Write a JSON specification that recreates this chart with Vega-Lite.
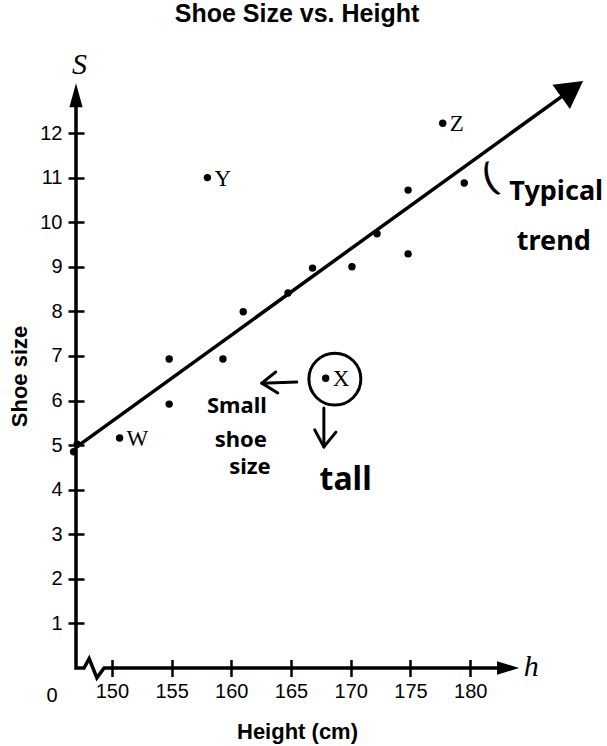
{
  "$schema": "https://vega.github.io/schema/vega-lite/v6.json",
  "width": 442,
  "height": 584,
  "autosize": {"type": "none"},
  "padding": {"left": 76, "top": 84, "right": 89, "bottom": 78},
  "background": "white",
  "title": {
    "text": "Shoe Size vs. Height",
    "font": "Liberation Sans",
    "fontSize": 25,
    "fontWeight": "bold",
    "color": "#000",
    "anchor": "middle",
    "frame": "group",
    "offset": 23
  },
  "config": {"view": {"stroke": null}, "font": "Liberation Sans"},
  "datasets": {
    "people": [
      {"h": 146.8, "s": 4.85, "label": ""},
      {"h": 147.1, "s": 5.02, "label": ""},
      {"h": 150.65, "s": 5.16, "label": "W"},
      {"h": 154.8, "s": 6.93, "label": ""},
      {"h": 154.8, "s": 5.92, "label": ""},
      {"h": 158.0, "s": 11.0, "label": "Y"},
      {"h": 159.3, "s": 6.93, "label": ""},
      {"h": 161.0, "s": 7.99, "label": ""},
      {"h": 164.75, "s": 8.41, "label": ""},
      {"h": 166.8, "s": 8.97, "label": ""},
      {"h": 167.9, "s": 6.5, "label": "X"},
      {"h": 170.1, "s": 9.0, "label": ""},
      {"h": 172.2, "s": 9.74, "label": ""},
      {"h": 174.8, "s": 10.72, "label": ""},
      {"h": 174.8, "s": 9.29, "label": ""},
      {"h": 177.7, "s": 12.22, "label": "Z"},
      {"h": 179.5, "s": 10.88, "label": ""}
    ],
    "trend": [
      {"h": 147.05, "s": 4.96},
      {"h": 188.43, "s": 12.97}
    ],
    "axisPath": [
      {"i": 0, "h": 147, "s": 12.6},
      {"i": 1, "h": 147, "s": 0},
      {"i": 2, "h": 147.67, "s": 0},
      {"i": 3, "h": 148.1, "s": 0.21},
      {"i": 4, "h": 148.75, "s": -0.22},
      {"i": 5, "h": 149.35, "s": 0},
      {"i": 6, "h": 182.6, "s": 0}
    ],
    "noteArrows": [
      {"g": "left", "i": 0, "h": 165.48, "s": 6.415},
      {"g": "left", "i": 1, "h": 162.55, "s": 6.39},
      {"g": "leftHead", "i": 0, "h": 163.72, "s": 6.64},
      {"g": "leftHead", "i": 1, "h": 162.55, "s": 6.39},
      {"g": "leftHead", "i": 2, "h": 163.89, "s": 6.17},
      {"g": "down", "i": 0, "h": 167.75, "s": 5.83},
      {"g": "down", "i": 1, "h": 167.75, "s": 4.96},
      {"g": "downHead", "i": 0, "h": 166.99, "s": 5.34},
      {"g": "downHead", "i": 1, "h": 167.75, "s": 4.96},
      {"g": "downHead", "i": 2, "h": 168.76, "s": 5.29}
    ],
    "smallNotes": [
      {"h": 160.47, "s": 5.87, "text": "Small"},
      {"h": 160.8, "s": 5.12, "text": "shoe"},
      {"h": 161.56, "s": 4.5, "text": "size"}
    ],
    "trendNotes": [
      {"h": 187.2, "s": 10.68, "text": "Typical"},
      {"h": 187.0, "s": 9.56, "text": "trend"}
    ],
    "tallNote": [
      {"h": 169.57, "s": 4.22, "text": "tall"}
    ]
  },
  "encoding": {
    "x": {
      "field": "h",
      "type": "quantitative",
      "scale": {"domain": [147, 184], "nice": false, "zero": false},
      "axis": {
        "values": [150, 155, 160, 165, 170, 175, 180],
        "domain": false,
        "grid": false,
        "tickSize": 17,
        "tickWidth": 2.5,
        "tickColor": "#000",
        "offset": -8.5,
        "labelFont": "Liberation Sans",
        "labelFontSize": 20,
        "labelColor": "#000",
        "labelPadding": 5,
        "title": "Height (cm)",
        "titleFont": "Liberation Sans",
        "titleFontSize": 22,
        "titleFontWeight": "bold",
        "titleColor": "#000",
        "titlePadding": 20
      }
    },
    "y": {
      "field": "s",
      "type": "quantitative",
      "scale": {"domain": [0, 13.1], "nice": false, "zero": false},
      "axis": {
        "values": [1, 2, 3, 4, 5, 6, 7, 8, 9, 10, 11, 12],
        "domain": false,
        "grid": false,
        "tickSize": 16,
        "tickWidth": 2.5,
        "tickColor": "#000",
        "offset": -8,
        "labelFont": "Liberation Sans",
        "labelFontSize": 20,
        "labelColor": "#000",
        "labelPadding": 6,
        "title": "Shoe size",
        "titleFont": "Liberation Sans",
        "titleFontSize": 22,
        "titleFontWeight": "bold",
        "titleColor": "#000",
        "titlePadding": 8
      }
    }
  },
  "layer": [
    {
      "data": {"name": "axisPath"},
      "mark": {"type": "line", "color": "#000", "strokeWidth": 3.5, "strokeJoin": "miter"},
      "encoding": {"order": {"field": "i", "type": "quantitative"}}
    },
    {
      "data": {"values": [{"h": 183.17, "s": 0}]},
      "mark": {"type": "point", "filled": true, "color": "#000", "opacity": 1, "shape": "M-1,-0.62L1,0L-1,0.62Z", "size": 484}
    },
    {
      "data": {"values": [{"h": 147, "s": 12.85}]},
      "mark": {"type": "point", "filled": true, "color": "#000", "opacity": 1, "shape": "M-0.55,1L0,-1L0.55,1Z", "size": 576}
    },
    {
      "data": {"values": [{"h": 145, "s": 0, "text": "0"}]},
      "mark": {"type": "text", "font": "Liberation Sans", "fontSize": 20, "color": "#000", "baseline": "top", "dy": 18},
      "encoding": {"text": {"field": "text"}}
    },
    {
      "data": {"values": [{"h": 147.3, "s": 13.53, "text": "S"}, {"h": 185.1, "s": 0.02, "text": "h"}]},
      "mark": {"type": "text", "font": "Liberation Serif", "fontStyle": "italic", "fontSize": 30, "color": "#000", "baseline": "middle", "align": "center"},
      "encoding": {"text": {"field": "text"}}
    },
    {
      "data": {"name": "trend"},
      "mark": {"type": "line", "color": "#000", "strokeWidth": 3.5, "strokeCap": "round"}
    },
    {
      "data": {"values": [{"h": 188.43, "s": 12.97}]},
      "mark": {"type": "point", "filled": true, "color": "#000", "opacity": 1, "shape": "M-1,0.8L0,-1L1,0.8Z", "size": 900, "angle": 54.2}
    },
    {
      "data": {"name": "people"},
      "mark": {"type": "point", "filled": true, "color": "#000", "opacity": 1, "size": 55}
    },
    {
      "data": {"name": "people"},
      "mark": {"type": "text", "font": "Liberation Serif", "fontSize": 23, "color": "#000", "align": "left", "baseline": "middle", "dx": 7, "dy": 1},
      "encoding": {"text": {"field": "label"}}
    },
    {
      "data": {"values": [{"h": 168.67, "s": 6.48}]},
      "mark": {"type": "point", "filled": false, "color": "#000", "strokeWidth": 3, "opacity": 1, "size": 2700}
    },
    {
      "data": {"name": "noteArrows"},
      "mark": {"type": "line", "color": "#000", "strokeWidth": 3, "strokeCap": "round", "strokeJoin": "round"},
      "encoding": {
        "detail": {"field": "g"},
        "order": {"field": "i", "type": "quantitative"}
      }
    },
    {
      "data": {"name": "smallNotes"},
      "mark": {"type": "text", "font": "Noto Sans", "fontWeight": "bold", "fontSize": 22, "color": "#000", "align": "center", "baseline": "middle"},
      "encoding": {"text": {"field": "text"}}
    },
    {
      "data": {"name": "trendNotes"},
      "mark": {"type": "text", "font": "Noto Sans", "fontWeight": "bold", "fontSize": 27, "color": "#000", "align": "center", "baseline": "middle"},
      "encoding": {"text": {"field": "text"}}
    },
    {
      "data": {"name": "tallNote"},
      "mark": {"type": "text", "font": "Noto Sans", "fontWeight": "bold", "fontSize": 32, "color": "#000", "align": "center", "baseline": "middle"},
      "encoding": {"text": {"field": "text"}}
    },
    {
      "data": {"values": [{"h": 181.66, "s": 10.99, "text": "("}]},
      "mark": {"type": "text", "font": "Noto Sans", "fontSize": 40, "color": "#000", "align": "center", "baseline": "middle", "angle": -20},
      "encoding": {"text": {"field": "text"}}
    }
  ]
}
